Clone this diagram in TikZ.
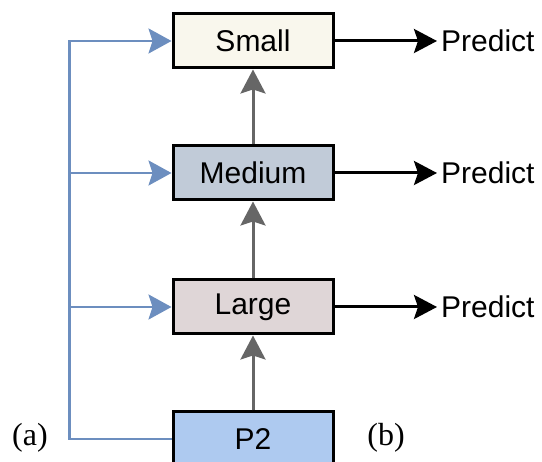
\documentclass[tikz,border=0pt]{standalone}
\usepackage{fontspec}
\setmainfont{Liberation Sans}
\newfontfamily\serifpart{Liberation Serif}
\usepackage{tikz}
\usepackage{xcolor}
\usetikzlibrary{
    arrows.meta,
    calc,
    positioning
}
\definecolor{smallfill}{HTML}{F9F7ED}
\definecolor{mediumfill}{HTML}{C1CBD8}
\definecolor{largefill}{HTML}{DFD6D7}
\definecolor{ptwofill}{HTML}{AECAF0}
\definecolor{feedblue}{HTML}{6C8EBF}
\definecolor{upgray}{HTML}{666666}
\tikzset{
    level/.style={draw=black, line width=3pt, minimum width=160pt, minimum height=54pt,
        inner sep=0pt, font=\fontsize{30}{36}\selectfont},
    feed/.style={draw=feedblue, line width=2.5pt},
    uparrow/.style={draw=upgray, line width=3pt, -{Stealth[length=24pt, width=25pt, inset=4pt]}},
    predarrow/.style={draw=black, line width=3pt, -{Stealth[length=23pt, width=24pt, inset=4pt]}},
    feedtip/.style={-{Stealth[length=23pt, width=25pt, inset=4pt, fill=feedblue]}}
}

\begin{document}
\begin{tikzpicture}[x=1pt, y=-1pt]
    \useasboundingbox (0, 0) rectangle (542, 462);

    \node[level, fill=smallfill] (small) at (253, 41) {Small};
    \node[level, fill=mediumfill] (medium) at (253, 173) {Medium};
    \node[level, fill=largefill] (large) at (253, 307) {Large};
    \node[level, fill=ptwofill] (p2) at (253, 439) {P2};

    \node[anchor=west, inner xsep=4pt, font=\fontsize{30}{36}\selectfont] (pred1) at (437, 41) {Predict};
    \node[anchor=west, inner xsep=4pt, font=\fontsize{30}{36}\selectfont] (pred2) at (437, 173) {Predict};
    \node[anchor=west, inner xsep=4pt, font=\fontsize{30}{36}\selectfont] (pred3) at (437, 307) {Predict};

    \node[font=\serifpart\fontsize{32}{38}\selectfont] (a) at (30, 438) {(a)};
    \node[font=\serifpart\fontsize{32}{38}\selectfont] (b) at (386, 438) {(b)};

    \coordinate (bus) at (69.5, 41);

    % side path from P2
    \draw[feed, feedtip, line join=miter] (p2.west) -| (bus) -- (small.west);
    \draw[feed, feedtip] (medium.west -| bus) -- (medium.west);
    \draw[feed, feedtip] (large.west -| bus) -- (large.west);

    % bottom-up path
    \draw
    (p2) edge [uparrow] (large)
    (large) edge [uparrow] (medium)
    (medium) edge [uparrow] (small);

    \draw
    (small) edge [predarrow] (pred1)
    (medium) edge [predarrow] (pred2)
    (large) edge [predarrow] (pred3);
\end{tikzpicture}
\end{document}
